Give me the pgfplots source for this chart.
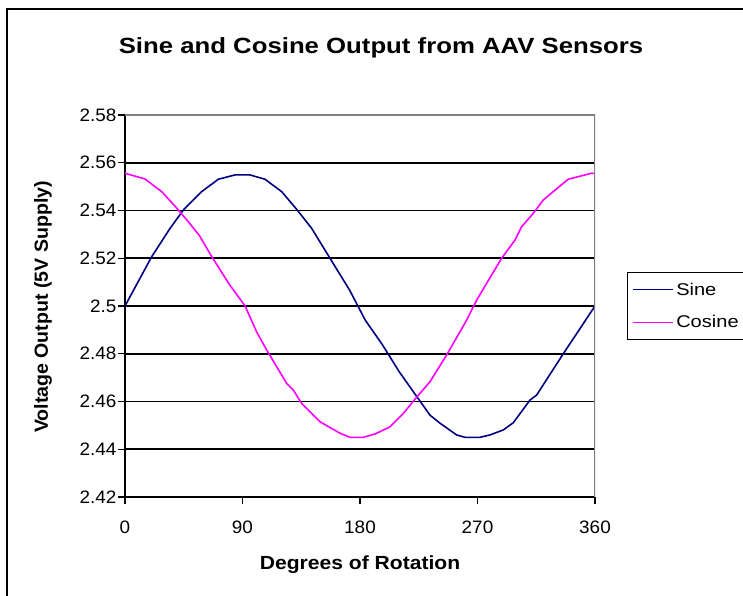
\documentclass[border=0pt]{standalone}
\usepackage{pgfplots}
\pgfplotsset{compat=1.18}
\usepackage{fontspec}
\setmainfont{Liberation Sans}
\newfontfamily\titlefont[FakeStretch=1.17]{Liberation Sans}
\newfontfamily\xlabfont[FakeStretch=1.11]{Liberation Sans}
\newfontfamily\ylabfont[FakeStretch=1.03]{Liberation Sans}
\newfontfamily\legfont[FakeStretch=1.18]{Liberation Sans}
\newfontfamily\tickfont[FakeStretch=1.05]{Liberation Sans}
\definecolor{sinecol}{RGB}{0,0,128}
\definecolor{coscol}{RGB}{255,0,255}
\definecolor{bordergray}{RGB}{128,128,128}

\pgfplotstableread{
deg   volt
0     2.5000
20.5  2.5207
34.5  2.5325
44.7  2.5402
58.7  2.5479
71.5  2.5531
84.3  2.5549
95.7  2.5549
107.2 2.5531
120   2.5479
131.5 2.5405
143   2.5325
157   2.5200
172   2.5067
184   2.4941
197   2.4839
210   2.4725
222   2.4632
233.6 2.4543
241.3 2.4509
254   2.4460
260.4 2.4450
271.9 2.4450
279.6 2.4460
289.8 2.4481
297.4 2.4511
310.2 2.4606
315.3 2.4627
335.7 2.4800
360   2.5000
}\sinedata

\pgfplotstableread{
deg   volt
0     2.5556
15.3  2.5532
28.1  2.5479
38    2.5420
48.5  2.5353
57    2.5295
66.4  2.5207
80    2.5090
92    2.5000
100.8 2.4892
108.5 2.4816
123.8 2.4676
128.9 2.4648
135.3 2.4592
149.4 2.4515
164.7 2.4467
172.3 2.4450
182.5 2.4450
192   2.4465
203   2.4494
213.2 2.4550
222   2.4609
233.6 2.4683
246.4 2.4795
261.7 2.4941
269.4 2.5025
277   2.5095
288.5 2.5200
298.7 2.5276
303.8 2.5332
312.7 2.5388
320.4 2.5444
328   2.5479
339.5 2.5531
357.4 2.5556
360   2.5555
}\cosinedata

\begin{document}
\begin{tikzpicture}[x=1pt,y=1pt]
\useasboundingbox (0,0) rectangle (743,595);
% outer chart frame (cut at right and bottom)
\draw[line width=1.8pt] (7,-10) -- (7,586) -- (760,586);

\begin{axis}[
    at={(125pt,98pt)}, anchor=south west,
    scale only axis,
    width=470pt, height=382pt,
    xmin=0, xmax=360,
    ymin=2.42, ymax=2.58,
    xtick={0,90,180,270,360},
    ytick={2.42,2.44,2.46,2.48,2.5,2.52,2.54,2.56,2.58},
    scaled y ticks=false,
    axis x line*=bottom,
    axis y line*=left,
    axis line style={black, line width=1.8pt, -},
    ymajorgrids=true,
    grid style={black, line width=1.6pt},
    tick align=outside,
    major tick length=7pt,
    tick style={black, line width=1.4pt},
    ticklabel style={font=\tickfont\fontsize{18}{20}\selectfont},
    xticklabel style={yshift=-13pt},
    yticklabel style={xshift=2pt},
    /pgf/number format/assume math mode=true,
    legend style={
        at={(1.068,0.589)}, anchor=north west,
        draw=black, line width=1.4pt,
        font=\legfont\fontsize{17}{20}\selectfont,
        inner xsep=5pt, inner ysep=8pt,
        row sep=15pt,
    },
    legend cell align=left,
    legend image code/.code={\draw[#1, line width=1.6pt] (0pt,0pt) -- (40pt,0pt);},
]
\addplot[sinecol, line width=1.6pt] table[x=deg, y=volt] {\sinedata};
\addlegendentry{Sine}
\addplot[coscol, line width=1.6pt] table[x=deg, y=volt] {\cosinedata};
\addlegendentry{Cosine}
% plot area border on top and right
\draw[bordergray, line width=1.8pt] (rel axis cs:0,1) -- (rel axis cs:1,1) -- (rel axis cs:1,0);
\end{axis}

\node[font=\titlefont\bfseries\fontsize{22}{26}\selectfont] at (381,547) {Sine and Cosine Output from AAV Sensors};
\node[font=\xlabfont\bfseries\fontsize{19}{22}\selectfont] at (360,30) {Degrees of Rotation};
\node[font=\ylabfont\bfseries\fontsize{19}{22}\selectfont, rotate=90] at (43,288) {Voltage Output (5V Supply)};
\end{tikzpicture}
\end{document}
